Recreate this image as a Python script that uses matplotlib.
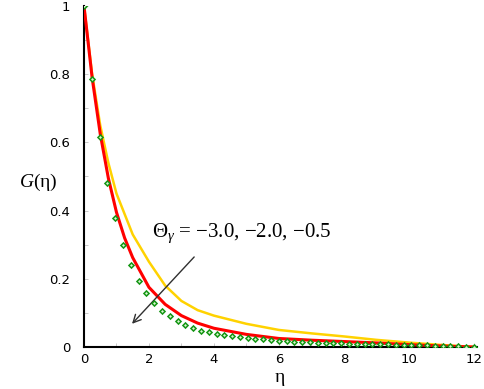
#!/usr/bin/env python3
import numpy as np
import matplotlib
matplotlib.use("Agg")
import matplotlib.pyplot as plt
from matplotlib.ticker import MultipleLocator

# yellow and red curves (coarse samples)
eta_yellow = [0, 0.25, 0.5, 0.75, 1.0, 1.5, 2.0, 2.5, 3.0, 3.5, 4.0, 5.0, 6.0, 7.0, 8.0, 9.0, 10.0, 11.0, 12.0]
g_yellow = [1.0, 0.80, 0.65, 0.54, 0.45, 0.33, 0.25, 0.18, 0.135, 0.108, 0.092, 0.068, 0.050, 0.040, 0.031, 0.021, 0.013, 0.006, 0.0]

eta_red = [0, 0.25, 0.5, 0.75, 1.0, 1.25, 1.5, 2.0, 2.5, 3.0, 3.5, 4.0, 5.0, 6.0, 7.0, 8.0, 9.0, 10.0, 11.0, 12.0]
g_red = [1.0, 0.79, 0.625, 0.495, 0.395, 0.32, 0.262, 0.175, 0.125, 0.092, 0.070, 0.055, 0.037, 0.025, 0.020, 0.016, 0.012, 0.007, 0.003, 0.0]

# green diamond markers, one every 0.24 in eta
eta_dots = np.linspace(0, 12, 51)
g_dots = [1.0, 0.787, 0.615, 0.482, 0.377, 0.299, 0.240, 0.194, 0.157, 0.128,
          0.106, 0.091, 0.076, 0.065, 0.055, 0.048, 0.043, 0.038, 0.034, 0.031,
          0.028, 0.026, 0.024, 0.022, 0.020, 0.018, 0.017, 0.016, 0.015, 0.014,
          0.013, 0.012, 0.012, 0.011, 0.010, 0.010, 0.009, 0.009, 0.008, 0.008,
          0.007, 0.007, 0.006, 0.006, 0.005, 0.004, 0.004, 0.003, 0.002, 0.001,
          0.0]

x_ticks = [0, 2, 4, 6, 8, 10, 12]
x_tick_labels = ["0", "2", "4", "6", "8", "10", "12"]
y_ticks = [0, 0.2, 0.4, 0.6, 0.8, 1.0]
y_tick_labels = ["0", "0.2", "0.4", "0.6", "0.8", "1"]

label_text = r"$\Theta_{\gamma}$ = −3.0, −2.0, −0.5"

plt.rcParams["font.family"] = ["Liberation Serif", "DejaVu Serif"]
plt.rcParams["mathtext.fontset"] = "custom"
plt.rcParams["mathtext.rm"] = "Liberation Serif"
plt.rcParams["mathtext.it"] = "Liberation Serif:italic"

fig = plt.figure(figsize=(4.84, 3.89), dpi=100)
ax = fig.add_axes([84 / 484, 42 / 389, 393 / 484, 341 / 389])

ax.plot(eta_yellow, g_yellow, color="#ffd200", linewidth=1.8, zorder=2)
ax.plot(eta_red, g_red, color="#ff0000", linewidth=2.2, zorder=3)
ax.plot(eta_dots, g_dots, linestyle="none", marker="D", markersize=2.6,
        markerfacecolor="#d8f5d0", markeredgecolor="#149614",
        markeredgewidth=1.1, zorder=4)

ax.set_xlim(0, 12.1)
ax.set_ylim(0, 1.0)
ax.set_xticks(x_ticks)
ax.set_xticklabels(x_tick_labels, family="DejaVu Sans")
ax.set_yticks(y_ticks)
ax.set_yticklabels(y_tick_labels, family="DejaVu Sans")
ax.xaxis.set_minor_locator(MultipleLocator(1))
ax.yaxis.set_minor_locator(MultipleLocator(0.1))
ax.tick_params(which="both", direction="in", color="#c0c0c0", width=0.6, labelsize=9.5)
ax.tick_params(which="major", length=3)
ax.tick_params(which="minor", length=3)
ax.tick_params(axis="y", pad=10)
ax.tick_params(axis="x", pad=4)

for side in ("top", "right"):
    ax.spines[side].set_visible(False)
for side in ("left", "bottom"):
    ax.spines[side].set_linewidth(1.5)
    ax.spines[side].set_color("black")

ax.text(2.1, 0.335, label_text, fontsize=15, ha="left", va="center")
ax.annotate("", xy=(1.42, 0.062), xytext=(3.45, 0.27),
            arrowprops=dict(arrowstyle="->", color="#303030", lw=1.0,
                            mutation_scale=14))

fig.text(38 / 484, 1 - 182 / 389, r"$G$(η)", fontsize=14, ha="center", va="center")
fig.text(280 / 484, 1 - 377 / 389, "η", fontsize=14, ha="center", va="center")

fig.savefig("out.png", dpi=100)
